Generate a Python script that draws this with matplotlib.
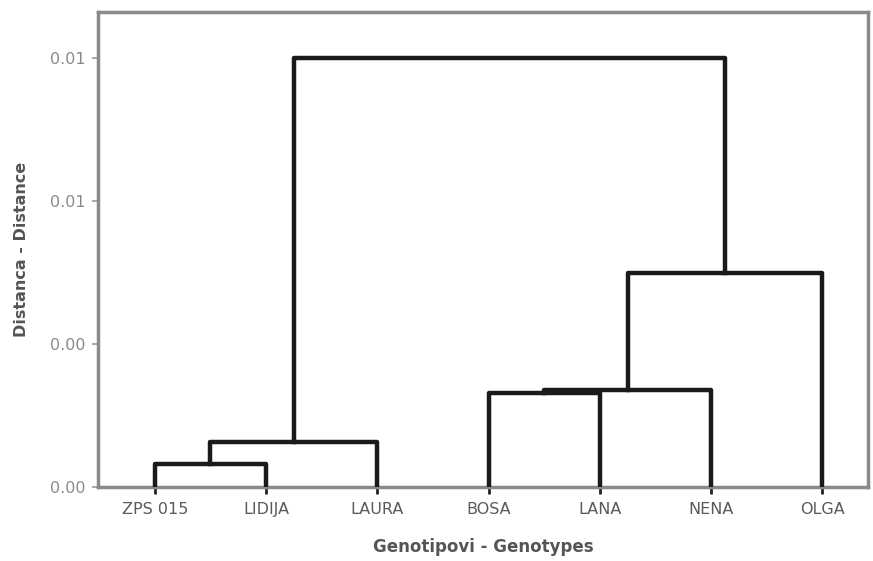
"""Dendrogram of genotypes (distance clustering)."""

import matplotlib.pyplot as plt

leaves = ["ZPS 015", "LIDIJA", "LAURA", "BOSA", "LANA", "NENA", "OLGA"]

# merges: (left cluster, right cluster, height); clusters >= 7 are earlier merges
merge_left = [0, 7, 3, 9, 10, 8]
merge_right = [1, 2, 4, 5, 6, 11]
merge_height = [0.00040, 0.00079, 0.00164, 0.00170, 0.00374, 0.00750]

y_ticks = [0.0, 0.0025, 0.005, 0.0075]


def main():
    fig = plt.figure(figsize=(8.73, 5.61), dpi=100)
    ax = fig.add_axes([0.1123, 0.1319, 0.882, 0.8467])

    pos = {i: (i + 1, 0.0) for i in range(len(leaves))}
    for k, (a, b, h) in enumerate(zip(merge_left, merge_right, merge_height)):
        xa, ya = pos[a]
        xb, yb = pos[b]
        ax.plot([xa, xa, xb, xb], [ya, h, h, yb], color="#1a1a1a",
                linewidth=3.2, solid_capstyle="projecting", zorder=3)
        pos[len(leaves) + k] = ((xa + xb) / 2, h)

    ax.set_xlim(0.49, 7.41)
    ax.set_ylim(0, 0.0083)
    ax.set_xticks(range(1, len(leaves) + 1))
    ax.set_xticklabels(leaves)
    ax.set_yticks(y_ticks)
    ax.set_yticklabels([f"{v:.2f}" for v in y_ticks])

    for spine in ax.spines.values():
        spine.set_color("#8a8a8a")
        spine.set_linewidth(2.5)

    ax.tick_params(axis="x", length=5, width=2, color="#222222", pad=6,
                   labelsize=11.5, labelcolor="#5a5a5a")
    ax.tick_params(axis="y", length=4, width=1.2, color="#999999", pad=5,
                   labelsize=11.5, labelcolor="#8a8a8a")
    for lab in ax.get_xticklabels() + ax.get_yticklabels():
        lab.set_fontfamily("DejaVu Sans")

    ax.set_xlabel("Genotipovi - Genotypes", fontsize=12, fontweight="bold",
                  family="DejaVu Sans", color="#555555", labelpad=15)
    ax.set_ylabel("Distanca - Distance", fontsize=11.5, fontweight="bold",
                  family="DejaVu Sans", color="#555555", labelpad=15)

    fig.savefig("out.png", dpi=100)
    plt.close(fig)


if __name__ == "__main__":
    main()
